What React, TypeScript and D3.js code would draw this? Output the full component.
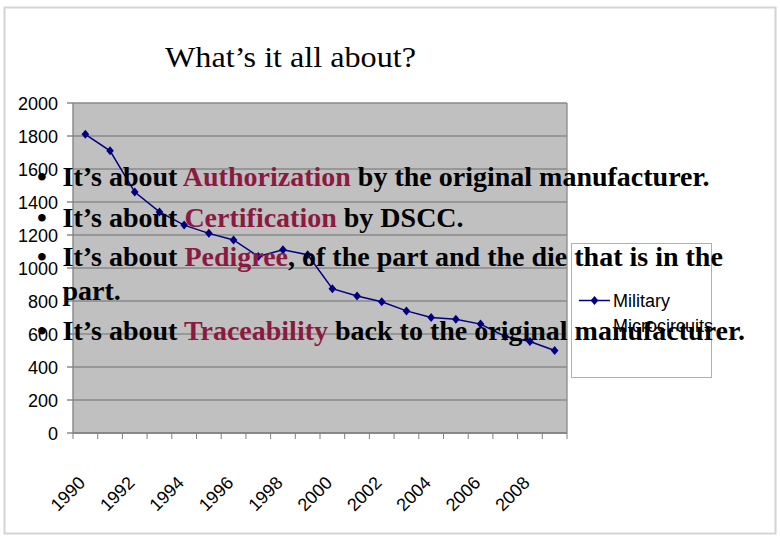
import React from "react";
import * as d3 from "d3";

const years = ["1990","1991","1992","1993","1994","1995","1996","1997","1998","1999","2000","2001","2002","2003","2004","2005","2006","2007","2008","2009"];
const values = [1810,1710,1460,1340,1260,1210,1170,1070,1110,1080,875,830,795,740,700,690,660,585,555,500];
const yTicks = [0,200,400,600,800,1000,1200,1400,1600,1800,2000];
const xLabels = ["1990","1992","1994","1996","1998","2000","2002","2004","2006","2008"];
const seriesName = ["Military", "Microcircuits"];
const title = "What\u2019s it all about?";
const bullets = [
  { pre: "It\u2019s about ", key: "Authorization", post: " by the original manufacturer." },
  { pre: "It\u2019s about ", key: "Certification", post: " by DSCC." },
  { pre: "It\u2019s about ", key: "Pedigree", post: ", of the part and the die that is in the" },
  { pre: "It\u2019s about ", key: "Traceability", post: " back to the original manufacturer." },
];
const continuation = "part.";

const diamond = {
  draw(ctx: any, size: number) {
    const h = Math.sqrt(size) * 0.75;
    const w = h * 0.85;
    ctx.moveTo(0, -h);
    ctx.lineTo(w, 0);
    ctx.lineTo(0, h);
    ctx.lineTo(-w, 0);
    ctx.closePath();
  },
};

export default function App() {
  const W = 780, H = 540;
  const left = 73, right = 567, top = 103, bottom = 433;
  const x = d3.scaleBand<string>().domain(years).range([left, right]);
  const y = d3.scaleLinear().domain([0, 2000]).range([bottom, top]);
  const cx = (yr: string) => (x(yr) as number) + x.bandwidth() / 2;
  const line = d3.line<number>().x((_, i) => cx(years[i])).y((d) => y(d));
  const sym = d3.symbol().type(diamond as any).size(36)();
  const sans = "'Liberation Sans', Arial, sans-serif";
  const serif = "'Liberation Serif', 'Times New Roman', serif";
  const red = "#8B1A40";
  const bulletY = [186, 226.5, 265.5, 340];
  const boundaries = years.map((yr) => x(yr) as number).concat([right]);

  return (
    <svg width={W} height={H} style={{ position: "absolute", left: 0, top: 0, background: "#fff" }}>
      <rect x={4.5} y={7.5} width={771} height={526} fill="#fff" stroke="#d4d4d4" strokeWidth={2} />
      <text x={165} y={67} fontFamily={serif} fontSize={30} textLength={251} lengthAdjust="spacingAndGlyphs" fill="#000">{title}</text>

      {/* plot area */}
      <rect x={left} y={top} width={right - left} height={bottom - top} fill="#c0c0c0" />
      {yTicks.map((t) => (
        <g key={t}>
          <line x1={left - 6} x2={right} y1={y(t)} y2={y(t)} stroke="#8a8a8a" strokeWidth={1.3} />
          <text x={58} y={y(t) + 6.5} textAnchor="end" fontFamily={sans} fontSize={18} fill="#000">{t}</text>
        </g>
      ))}
      <line x1={right} x2={right} y1={top} y2={bottom} stroke="#8a8a8a" strokeWidth={1.3} />
      <line x1={left} x2={left} y1={top} y2={bottom} stroke="#808080" strokeWidth={1.3} />
      <line x1={left} x2={right} y1={bottom} y2={bottom} stroke="#808080" strokeWidth={1.3} />
      {boundaries.map((b, i) => (
        <line key={i} x1={b} x2={b} y1={bottom} y2={bottom + 6} stroke="#808080" strokeWidth={1} />
      ))}
      {xLabels.map((lab) => (
        <text key={lab} transform={`translate(${cx(lab) + 1},484) rotate(-45)`} textAnchor="end" fontFamily={sans} fontSize={18} fill="#000">{lab}</text>
      ))}

      <path d={line(values) || ""} fill="none" stroke="#000080" strokeWidth={1.5} />
      {values.map((v, i) => (
        <path key={i} d={sym || ""} transform={`translate(${cx(years[i])},${y(v)})`} fill="#000080" />
      ))}

      {/* legend */}
      <rect x={571.5} y={243.5} width={140} height={134} fill="#fff" stroke="#b0b0b0" strokeWidth={1} />
      <line x1={579} x2={610} y1={300.5} y2={300.5} stroke="#000080" strokeWidth={1.5} />
      <path d={sym || ""} transform="translate(594.5,300.5)" fill="#000080" />
      <text x={613} y={306.5} fontFamily={sans} fontSize={18} fill="#000">{seriesName[0]}</text>
      <text x={613} y={332} fontFamily={sans} fontSize={18} fill="#000">{seriesName[1]}</text>

      {/* overlaid bullet text */}
      {bullets.map((b, i) => (
        <g key={i}>
          <text x={37} y={bulletY[i]} fontFamily={serif} fontWeight="bold" fontSize={28} fill="#000">{"\u2022"}</text>
          <text x={62.5} y={bulletY[i]} fontFamily={serif} fontWeight="bold" fontSize={28} fill="#000">
            <tspan>{b.pre}</tspan>
            <tspan fill={red}>{b.key}</tspan>
            <tspan>{b.post}</tspan>
          </text>
        </g>
      ))}
      <text x={62.5} y={300} fontFamily={serif} fontWeight="bold" fontSize={28} fill="#000">{continuation}</text>
    </svg>
  );
}
